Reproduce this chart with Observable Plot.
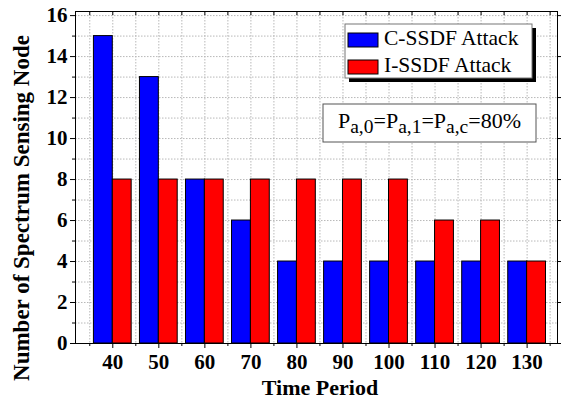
<!DOCTYPE html>
<html><head><meta charset="utf-8">
<script src="https://cdn.jsdelivr.net/npm/d3@7"></script>
<script src="https://cdn.jsdelivr.net/npm/@observablehq/plot@0.6"></script>
<style>body{margin:0;background:#fff} #chart{width:561px;height:400px}</style>
</head><body><div id="chart"></div>
<script>
const periods = [40, 50, 60, 70, 80, 90, 100, 110, 120, 130];
const cSSDF = [15, 13, 8, 6, 4, 4, 4, 4, 4, 4];
const iSSDF = [8, 8, 8, 8, 8, 8, 8, 6, 6, 4];
const seriesNames = ["C-SSDF Attack", "I-SSDF Attack"];
const seriesColors = ["#0000ff", "#ff0000"];
const yMajorTicks = [0, 2, 4, 6, 8, 10, 12, 14, 16];
const yMinorTicks = [1, 3, 5, 7, 9, 11, 13, 15];
const xMinorTicks = [35, 45, 55, 65, 75, 85, 95, 105, 115, 125, 135];
const xTitle = "Time Period";
const yTitle = "Number of Spectrum Sensing Node";

const barW = 4.1;
const rows = periods.flatMap((p, i) => [
  {period: p, value: cSSDF[i], series: seriesNames[0], k: 0},
  {period: p, value: iSSDF[i], series: seriesNames[1], k: 1}
]);
const font = "Liberation Serif, Times New Roman, serif";
const grid = {stroke: "#b8b8b8", strokeOpacity: 1, strokeDasharray: "1.5,1.5"};
const blank = () => "";
const tickText = {fontSize: 21, fontWeight: "bold", fontFamily: font, label: null};

const plot = Plot.plot({
  width: 561, height: 400,
  marginLeft: 75, marginRight: 4, marginTop: 11, marginBottom: 57,
  style: {fontFamily: font, background: "#fff", color: "#000"},
  x: {domain: [31.9, 136.6]},
  y: {domain: [0, 16.2]},
  color: {domain: seriesNames, range: seriesColors},
  marks: [
    Plot.gridY(d3.range(1, 17), grid),
    Plot.gridX(d3.range(35, 136, 5), grid),
    Plot.rect(rows, {
      x1: d => d.k === 0 ? d.period - barW : d.period,
      x2: d => d.k === 0 ? d.period : d.period + barW,
      y1: 0, y2: "value", fill: "series", stroke: "#000", strokeWidth: 1
    }),
    Plot.frame({stroke: "#000"}),
    Plot.axisY(yMajorTicks, {tickSize: 5, tickPadding: 3, ...tickText}),
    Plot.axisY(yMinorTicks, {tickSize: 3, tickFormat: blank, label: null}),
    Plot.axisY(yMajorTicks, {anchor: "right", tickSize: 3, tickFormat: blank, label: null}),
    Plot.axisX(periods, {tickSize: 5, tickPadding: 6, ...tickText}),
    Plot.axisX(xMinorTicks, {tickSize: 3, tickFormat: blank, label: null}),
    Plot.ruleX(d3.range(35, 136, 5), {y1: 16.2, y2: 16.0, stroke: "#000"})
  ]
});
document.getElementById("chart").appendChild(plot);

const svg = d3.select(plot);
svg.attr("font-family", font).style("font-family", font);
// axis titles
svg.append("text").attr("x", 320).attr("y", 395).attr("text-anchor", "middle")
  .attr("font-family", font).attr("font-weight", "bold").attr("font-size", 22).text(xTitle);
svg.append("text").attr("transform", "translate(29,208) rotate(-90)").attr("text-anchor", "middle")
  .attr("font-family", font).attr("font-weight", "bold").attr("font-size", 23).text(yTitle);

// legend
const lg = svg.append("g");
lg.append("rect").attr("x", 349).attr("y", 28).attr("width", 187).attr("height", 54).attr("fill", "#000");
lg.append("rect").attr("x", 345).attr("y", 24).attr("width", 187).attr("height", 54)
  .attr("fill", "#fff").attr("stroke", "#777");
seriesNames.forEach((name, i) => {
  lg.append("rect").attr("x", 348).attr("y", 33 + i * 27).attr("width", 30).attr("height", 14)
    .attr("fill", seriesColors[i]).attr("stroke", "#000");
  lg.append("text").attr("x", 384).attr("y", 45 + i * 27).attr("text-anchor", "start")
    .attr("font-family", font).attr("font-size", 21.5).text(name);
});

// annotation
const an = svg.append("g");
an.append("rect").attr("x", 323).attr("y", 104).attr("width", 213).attr("height", 38)
  .attr("fill", "#fff").attr("stroke", "#555");
const t = an.append("text").attr("x", 429.5).attr("y", 128).attr("text-anchor", "middle")
  .attr("font-family", font).attr("font-size", 22);
const parts = [["P", "a,0"], ["=P", "a,1"], ["=P", "a,c"], ["=80%", null]];
let shifted = false;
parts.forEach(([main, sub]) => {
  t.append("tspan").attr("dy", shifted ? -5 : 0).text(main);
  shifted = false;
  if (sub) {
    t.append("tspan").attr("font-size", 19.5).attr("dy", 5).text(sub);
    shifted = true;
  }
});
</script>
</body></html>
